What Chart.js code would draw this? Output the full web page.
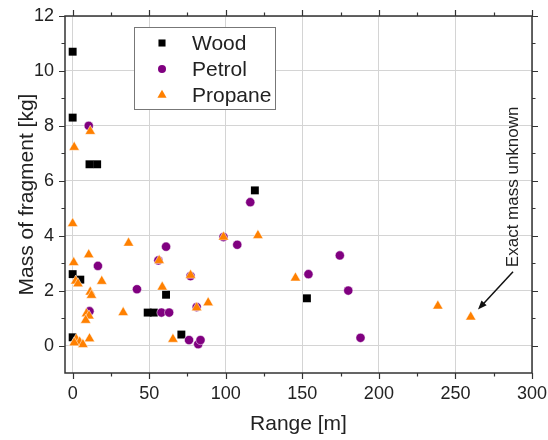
<!DOCTYPE html>
<html>
<head>
<meta charset="utf-8">
<script src="https://cdn.jsdelivr.net/npm/chart.js@4.4.1/dist/chart.umd.min.js"></script>
<style>
html, body { margin: 0; padding: 0; background: #fff; }
</style>
</head>
<body>
<canvas id="c" width="548" height="440"></canvas>
<script>
// values
var woodRange = [0, 0, 11, 16, 0, 5, 0, 49, 53, 61, 71, 119, 153];
var woodMass  = [10.7, 8.3, 6.6, 6.6, 2.6, 2.4, 0.3, 1.2, 1.2, 1.85, 0.4, 5.65, 1.72];

var petrolRange = [10.5, 16.5, 11, 42, 56, 61, 58, 63, 77, 76, 81, 82, 83.5, 98.5, 107.5, 116, 154, 174.5, 180, 188];
var petrolMass  = [8.0, 2.9, 1.25, 2.05, 3.1, 3.6, 1.2, 1.2, 2.53, 0.2, 1.4, 0.05, 0.2, 3.95, 3.67, 5.22, 2.6, 3.28, 2.0, 0.28];

var propaneRange = [1, 11.5, 0, 0.7, 2, 3.5, 10.5, 11.5, 12.3, 19, 36.5, 33, 56.5, 58.5, 65.5, 77, 81, 88.5, 98.5,
                    9, 10.7, 8.5, 11, 2.4, 4.6, 6.7, 1, 121, 145.5, 238.5, 260];
var propaneMass  = [7.22, 7.8, 4.44, 3.02, 2.35, 2.25, 3.31, 1.95, 1.83, 2.34, 3.73, 1.2, 3.1, 2.13, 0.23, 2.56, 1.38, 1.56, 3.95,
                    1.16, 1.08, 0.92, 0.25, 0.23, 0.13, 0.04, 0.1, 4.01, 2.46, 1.44, 1.04];

var seriesNames = ['Wood', 'Petrol', 'Propane'];
var xTicks = [0, 50, 100, 150, 200, 250, 300];
var xMinorTicks = [25, 75, 125, 175, 225, 275];
var yTicks = [0, 2, 4, 6, 8, 10, 12];
var yMinorTicks = [1, 3, 5, 7, 9, 11];
var noteText = 'Exact mass unknown';

var FONT = '"Liberation Sans", Arial, sans-serif';
var TEXT = '#222';

function toPoints(xs, ys) {
    var pts = [];
    for (var i = 0; i < xs.length; i++) pts.push({x: xs[i], y: ys[i]});
    return pts;
}

// frame, ticks on all four sides, legend box and the arrow note
var decorPlugin = {
    id: 'decor',
    afterDraw: function(chart) {
        var ctx = chart.ctx;
        var a = chart.chartArea;
        var sx = chart.scales.x, sy = chart.scales.y;
        ctx.save();

        // frame
        ctx.strokeStyle = '#333';
        ctx.lineWidth = 1.5;
        ctx.strokeRect(a.left, a.top, a.right - a.left, a.bottom - a.top);

        // ticks, pointing out
        ctx.lineWidth = 1.2;
        ctx.beginPath();
        function xt(list, len) {
            list.forEach(function(v) {
                var p = Math.round(sx.getPixelForValue(v)) + 0.5;
                ctx.moveTo(p, a.bottom); ctx.lineTo(p, a.bottom + len);
                ctx.moveTo(p, a.top); ctx.lineTo(p, a.top - len);
            });
        }
        function yt(list, len) {
            list.forEach(function(v) {
                var p = Math.round(sy.getPixelForValue(v)) + 0.5;
                ctx.moveTo(a.left, p); ctx.lineTo(a.left - len, p);
                ctx.moveTo(a.right, p); ctx.lineTo(a.right + len, p);
            });
        }
        xt(xTicks, 6); xt(xMinorTicks, 3.5);
        yt(yTicks, 6); yt(yMinorTicks, 3.5);
        ctx.stroke();

        // legend
        var bx = 134, by = 27, bw = 141, bh = 82;
        ctx.fillStyle = '#fff';
        ctx.fillRect(bx, by, bw, bh);
        ctx.strokeStyle = '#777';
        ctx.lineWidth = 1;
        ctx.strokeRect(bx + 0.5, by + 0.5, bw, bh);
        ctx.font = '21px ' + FONT;
        ctx.textBaseline = 'middle';
        ctx.textAlign = 'left';
        chart.data.datasets.forEach(function(ds, i) {
            var cy = by + 16 + i * 26;
            ctx.fillStyle = ds.backgroundColor;
            ctx.strokeStyle = ds.backgroundColor;
            Chart.helpers.drawPoint(ctx, {
                pointStyle: ds.pointStyle,
                radius: ds.pointStyle === 'rect' ? 5 : (ds.pointStyle === 'circle' ? 4 : 5.3),
                borderWidth: 0
            }, 162, cy);
            ctx.fillStyle = TEXT;
            ctx.fillText(ds.label, 192, cy + 1);
        });

        // note with arrow
        var tx = sx.getPixelForValue(287.6), ty = sy.getPixelForValue(5.78);
        ctx.save();
        ctx.translate(tx, ty);
        ctx.rotate(-Math.PI / 2);
        ctx.font = '17px ' + FONT;
        ctx.textAlign = 'center';
        ctx.fillStyle = TEXT;
        ctx.fillText(noteText, 0, 0);
        ctx.restore();

        var x0 = sx.getPixelForValue(287.6), y0 = sy.getPixelForValue(2.69);
        var x1 = sx.getPixelForValue(264.7), y1 = sy.getPixelForValue(1.31);
        var ang = Math.atan2(y1 - y0, x1 - x0);
        ctx.strokeStyle = '#111';
        ctx.fillStyle = '#111';
        ctx.lineWidth = 1.5;
        ctx.beginPath();
        ctx.moveTo(x0, y0);
        ctx.lineTo(x1 - 6 * Math.cos(ang), y1 - 6 * Math.sin(ang));
        ctx.stroke();
        ctx.beginPath();
        ctx.moveTo(x1, y1);
        ctx.lineTo(x1 - 9 * Math.cos(ang) + 3.5 * Math.sin(ang), y1 - 9 * Math.sin(ang) - 3.5 * Math.cos(ang));
        ctx.lineTo(x1 - 9 * Math.cos(ang) - 3.5 * Math.sin(ang), y1 - 9 * Math.sin(ang) + 3.5 * Math.cos(ang));
        ctx.closePath();
        ctx.fill();

        ctx.restore();
    }
};

var ctx = document.getElementById('c').getContext('2d');
window.chart = new Chart(ctx, {
    type: 'scatter',
    data: {
        datasets: [
            {
                label: seriesNames[0],
                data: toPoints(woodRange, woodMass),
                pointStyle: 'rect',
                pointRadius: 5.6,
                backgroundColor: '#000',
                borderColor: '#000',
                borderWidth: 0,
                order: 3
            },
            {
                label: seriesNames[1],
                data: toPoints(petrolRange, petrolMass),
                pointStyle: 'circle',
                pointRadius: 4.6,
                backgroundColor: '#800080',
                borderColor: '#fff',
                borderWidth: 0.5,
                order: 2
            },
            {
                label: seriesNames[2],
                data: toPoints(propaneRange, propaneMass),
                pointStyle: 'triangle',
                pointRadius: 6,
                backgroundColor: '#ff8000',
                borderColor: '#fff',
                borderWidth: 0.5,
                order: 1
            }
        ]
    },
    options: {
        responsive: false,
        animation: false,
        layout: { padding: { left: 0, top: 16, right: 16, bottom: 0 } },
        plugins: {
            legend: { display: false },
            tooltip: { enabled: false }
        },
        scales: {
            x: {
                type: 'linear',
                min: -5,
                max: 300,
                afterBuildTicks: function(scale) {
                    scale.ticks = xTicks.map(function(v) { return {value: v}; });
                },
                afterFit: function(scale) {
                    scale.height = 67;
                    scale.paddingLeft = 0;
                    scale.paddingRight = 0;
                },
                grid: { color: '#d4d4d4', lineWidth: 1, drawTicks: false },
                border: { display: false },
                ticks: {
                    padding: 10,
                    color: TEXT,
                    font: { family: FONT, size: 18 },
                    maxRotation: 0
                },
                title: {
                    display: true,
                    text: 'Range [m]',
                    color: TEXT,
                    font: { family: FONT, size: 21 },
                    padding: { top: 0, bottom: 3 }
                }
            },
            y: {
                type: 'linear',
                min: -1,
                max: 12,
                afterBuildTicks: function(scale) {
                    scale.ticks = yTicks.map(function(v) { return {value: v}; });
                },
                afterFit: function(scale) {
                    scale.width = 65;
                    scale.paddingTop = 0;
                    scale.paddingBottom = 0;
                },
                grid: { color: '#d4d4d4', lineWidth: 1, drawTicks: false },
                border: { display: false },
                ticks: {
                    padding: 11,
                    color: TEXT,
                    font: { family: FONT, size: 18 }
                },
                title: {
                    display: true,
                    text: 'Mass of fragment [kg]',
                    color: TEXT,
                    font: { family: FONT, size: 21 },
                    padding: { top: 15, bottom: 0 }
                }
            }
        }
    },
    plugins: [decorPlugin]
});
</script>
</body>
</html>
